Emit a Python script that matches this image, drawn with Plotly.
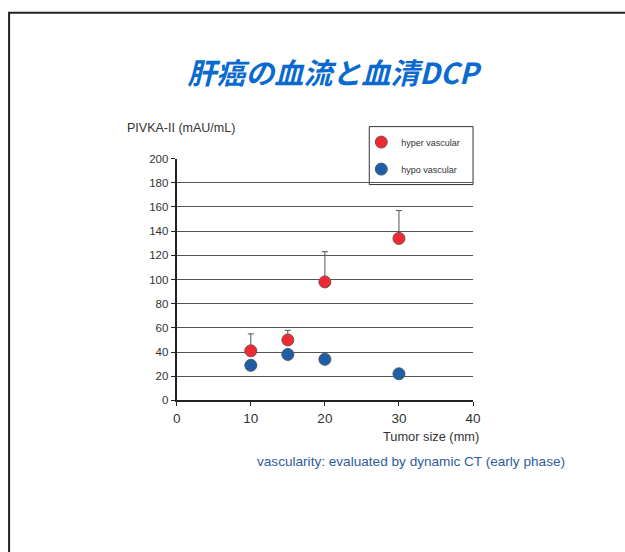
import plotly.graph_objects as go

sizes = [10, 15, 20, 30]
hyper_vals = [41, 50, 98, 134]
hyper_upper = [55, 58, 123, 157]
hypo_vals = [29, 38, 34, 22]
y_ticks = [0, 20, 40, 60, 80, 100, 120, 140, 160, 180, 200]
x_ticks = [0, 10, 20, 30, 40]

W, H = 625, 552
# map reference pixel positions to paper fractions (compensating render scale)
def px(x): return ((x - 2.9) / 0.983) / W
def py(y): return 1 - ((y - 5.3) / 0.979) / H

fig = go.Figure()
fig.add_trace(go.Scatter(
    x=sizes, y=hyper_vals, mode="markers", name="hyper vascular",
    legendgroup="a",
    marker=dict(size=12, color="#EE2A33", line=dict(color="#7a5050", width=1)),
    error_y=dict(type="data", symmetric=False,
                 array=[u - v for u, v in zip(hyper_upper, hyper_vals)],
                 arrayminus=[0] * len(hyper_vals),
                 color="#555555", thickness=1, width=3),
))
fig.add_trace(go.Scatter(
    x=sizes, y=hypo_vals, mode="markers", name="hypo vascular",
    legendgroup="b",
    marker=dict(size=12, color="#1F5DA6", line=dict(color="#4a5a70", width=1)),
))

fig.update_layout(
    autosize=True, margin=dict(l=0, r=0, t=0, b=0),
    plot_bgcolor="white", paper_bgcolor="white",
    font=dict(family="Liberation Sans, Arial", color="#333333"),
    title=dict(text="肝癌の血流と血清DCP", x=px(330), xanchor="center",
               y=py(78), yanchor="middle",
               font=dict(family="Noto Sans CJK JP", size=29, color="#0A6AD0",
                         weight="bold", style="italic")),
    xaxis=dict(domain=[px(176), px(473)], range=[0, 40], tickvals=x_ticks,
               showgrid=False, zeroline=False, showline=True, linecolor="#222",
               linewidth=2, ticks="outside", ticklen=4, tickcolor="#222",
               tickfont=dict(size=13.5, color="#333")),
    yaxis=dict(domain=[py(400), py(158)], range=[0, 200], tickvals=y_ticks,
               showgrid=True, gridcolor="#555555", gridwidth=1,
               zeroline=False, showline=True, linecolor="#222", linewidth=2,
               ticks="outside", ticklen=4, tickcolor="#222",
               tickfont=dict(size=11.5, color="#333")),
    legend=dict(x=px(361), y=py(127), xanchor="left", yanchor="top",
                bgcolor="rgba(0,0,0,0)", borderwidth=0,
                font=dict(size=9, color="#333"), tracegroupgap=8,
                itemwidth=30),
    showlegend=True,
)

fig.add_shape(type="rect", xref="paper", yref="paper",
              x0=px(369), x1=px(473), y0=py(184), y1=py(126),
              line=dict(color="#333", width=1), fillcolor="white", layer="below")
fig.add_shape(type="rect", xref="paper", yref="paper",
              x0=px(8), x1=px(660), y0=py(590), y1=py(12),
              line=dict(color="#222", width=2), fillcolor="rgba(0,0,0,0)")

fig.add_annotation(text="PIVKA-II (mAU/mL)", xref="paper", yref="paper",
                   x=px(124), y=py(127), xanchor="left", yanchor="middle",
                   showarrow=False, font=dict(size=12.5, color="#333"))
fig.add_annotation(text="Tumor size (mm)", xref="paper", yref="paper",
                   x=px(481), y=py(436), xanchor="right", yanchor="middle",
                   showarrow=False, font=dict(size=12.8, color="#333"))
fig.add_annotation(text="vascularity: evaluated by dynamic CT (early phase)",
                   xref="paper", yref="paper",
                   x=px(254), y=py(461), xanchor="left", yanchor="middle",
                   showarrow=False, font=dict(size=13.6, color="#2E5C9E"))

post = ("document.documentElement.style.margin='0';"
        "document.body.style.margin='0';"
        "document.documentElement.style.overflow='hidden';"
        "document.body.style.overflow='hidden';"
        "var gd=document.getElementById('{plot_id}');"
        "gd.style.width='100vw';gd.style.height='100vh';"
        "Plotly.Plots.resize(gd);")

fig.write_html("out.html", default_width="100vw", default_height="100vh",
               config={"displayModeBar": False, "responsive": True},
               post_script=post)
